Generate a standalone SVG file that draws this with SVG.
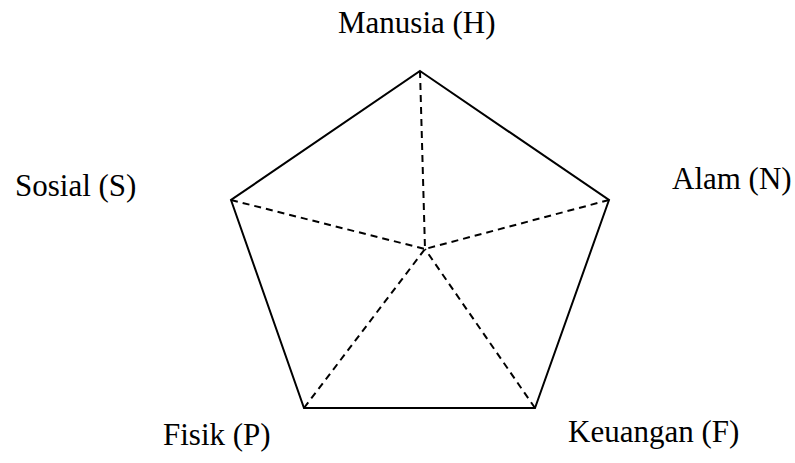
<svg xmlns="http://www.w3.org/2000/svg" width="795" height="463" viewBox="0 0 795 463">
<style>
text{font-family:'Liberation Serif','Times New Roman',Times,serif;font-size:31px;fill:#000}
.edge{stroke:#000;stroke-width:2;fill:none;stroke-linejoin:miter}
.dash{stroke:#000;stroke-width:2;stroke-dasharray:7 5;fill:none}
</style>
<rect width="795" height="463" fill="#fff"/>
<g id="connectors">
<polygon class="edge" points="420,71 609,200 535,408 304,408 231,200"/>
<line class="dash" x1="420" y1="71" x2="425" y2="249"/>
<line class="dash" x1="609" y1="200" x2="425" y2="249"/>
<line class="dash" x1="231" y1="200" x2="425" y2="249"/>
<line class="dash" x1="304" y1="408" x2="425" y2="249"/>
<line class="dash" x1="535" y1="408" x2="425" y2="249"/>
</g>
<g id="node-H"><text x="338" y="33" font-family="Liberation Serif, serif">Manusia (H)</text></g>
<g id="node-S"><text x="15" y="196" font-family="Liberation Serif, serif">Sosial (S)</text></g>
<g id="node-N"><text x="672" y="189" font-family="Liberation Serif, serif">Alam (N)</text></g>
<g id="node-P"><text x="163" y="445" font-family="Liberation Serif, serif">Fisik (P)</text></g>
<g id="node-F"><text x="568" y="442" font-family="Liberation Serif, serif">Keuangan (F)</text></g>
</svg>
